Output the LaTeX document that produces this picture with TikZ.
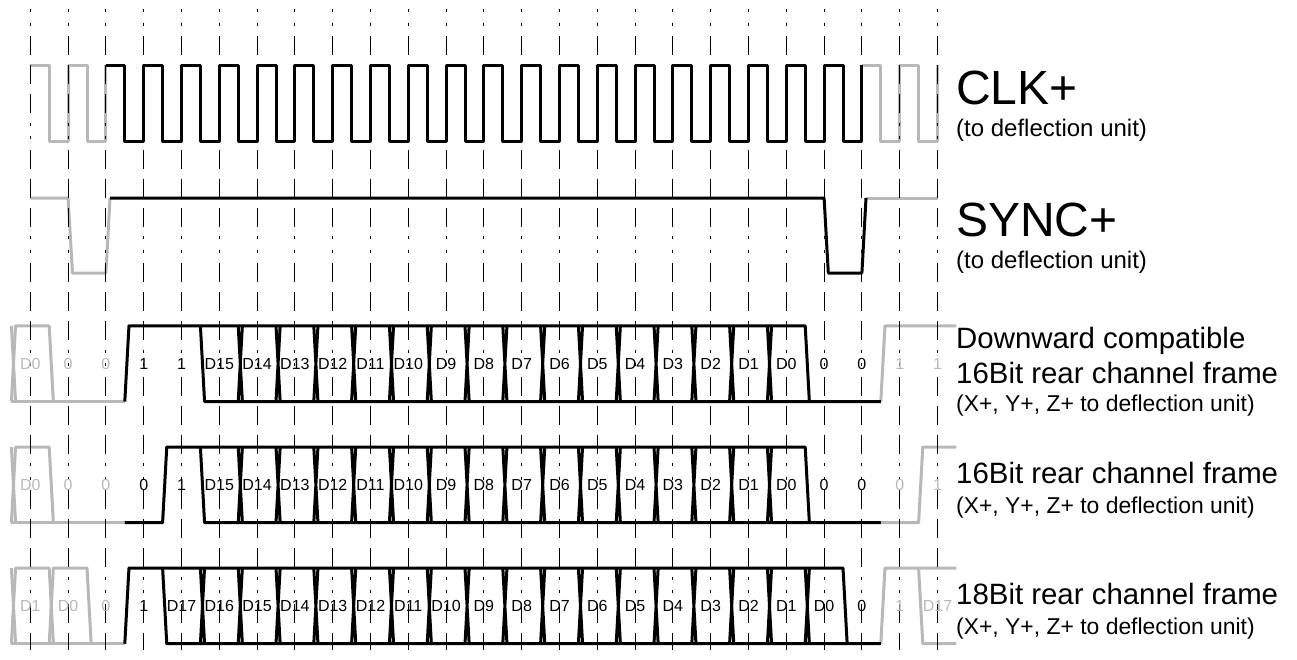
\documentclass[tikz,border=0pt]{standalone}
\usepackage{fontspec}
\setmainfont{Liberation Sans}
\usepackage{xcolor}
\usetikzlibrary{positioning}
\definecolor{faded}{HTML}{B8B8B8}

\begin{document}
\begin{tikzpicture}[
        x=1pt,y=-1pt,
        wave/.style={black,line width=3pt,line join=round},
        ghost/.style={wave,faded},
        grid/.style={black,line width=1pt,
                     dash pattern=on 3pt off 10.5pt on 3pt off 10.5pt on 19pt off 10pt on 19pt off 10pt on 19pt off 9.5pt},
        slots/.style={x=37.8pt,y=-75.7pt,shift={(11.4pt,-#1)}},
        bit/.style={anchor=base,inner sep=0pt,font=\fontsize{16}{16}\selectfont},
        ghostbit/.style={bit,text=faded},
        big/.style={anchor=base west,inner sep=0pt,font=\fontsize{48}{48}\selectfont},
        mid/.style={anchor=base west,inner sep=0pt,font=\fontsize{29.4}{29.4}\selectfont},
        small/.style={anchor=base west,inner sep=0pt,font=\fontsize{24}{24}\selectfont},
        tiny/.style={anchor=base west,inner sep=0pt,font=\fontsize{22.9}{22.9}\selectfont}
      ]
        \useasboundingbox (0,0) rectangle (1297,659);
        % greyed parts first, the time grid goes over them
        \draw[ghost] (30.3,65) \foreach \i in {1,2} {-- ++(18.9,0) -- ++(0,76) -- ++(18.9,0) -- ++(0,-76)};
        \draw[ghost] (861.9,65) \foreach \i in {1,2} {-- ++(18.9,0) -- ++(0,76) -- ++(18.9,0) -- ++(0,-76)};
        \draw[ghost] (30.3,198) -- (68.1,198) -- (72.5,273) -- (105.9,273) -- (110,198);
        \draw[ghost] (866,198) -- (937.5,198);
        \begin{scope}[slots=325.8pt]
          \draw[ghost] (0,1) -- (.11,0) -- (1,0) -- (1.11,1);
          \draw[ghost] (0,0) -- (.11,1);
          \draw[ghost] (0,1) -- (3,1);
          \draw[ghost] (23,1) -- (23.11,0) -- (25,0);
        \end{scope}
        \begin{scope}[slots=447pt]
          \draw[ghost] (0,1) -- (.11,0) -- (1,0) -- (1.11,1);
          \draw[ghost] (0,0) -- (.11,1);
          \draw[ghost] (0,1) -- (3,1);
          \draw[ghost] (23,1) -- (24,1) -- (24.11,0) -- (25,0);
        \end{scope}
        \begin{scope}[slots=568pt]
          \draw[ghost] (0,1) -- (.11,0) -- (1,0) -- (1.11,1);
          \draw[ghost] (0,0) -- (.11,1);
          \draw[ghost] (1,1) -- (1.11,0) -- (2,0) -- (2.11,1);
          \draw[ghost] (0,1) -- (3,1);
          \draw[ghost] (23,1) -- (23.11,0) -- (25,0);
          \draw[ghost] (24,0) -- (24.11,1) -- (25,1);
        \end{scope}
        % time grid
        \foreach \i in {0,...,24}
          \draw[grid] (30.3+\i*37.8,9) -- (30.3+\i*37.8,650);
        % clock and sync
        \draw[wave] (105.9,65) \foreach \i in {1,...,20} {-- ++(18.9,0) -- ++(0,76) -- ++(18.9,0) -- ++(0,-76)};
        \draw[wave] (110,198) -- (824.1,198) -- (828.3,273) -- (861.9,273) -- (866,198);
        % compatible frame
        \begin{scope}[slots=325.8pt]
          \draw[wave] (3,1) -- (3.11,0) -- (21,0) -- (21.11,1);
          \draw[wave] (5,0) -- (5.11,1) -- (23,1);
          \foreach \k in {6,...,20}
            \draw[wave] (\k,0) -- (\k+.11,1) (\k,1) -- (\k+.11,0);
          \node[ghostbit] (aD) at (.5,.58) {D0};
          \foreach \k/\t in {1/0,2/0,23/1,24/1}
            \node[ghostbit] (a\k) at (\k+.5,.58) {\t};
          \foreach \k/\t in {3/1,4/1,21/0,22/0}
            \node[bit] (a\k) at (\k+.5,.58) {\t};
          \foreach \k [evaluate=\k as \n using int(20-\k)] in {5,...,20}
            \node[bit] (a\k) at (\k+.5,.58) {D\n};
        \end{scope}
        % 16 bit frame
        \begin{scope}[slots=447pt]
          \draw[wave] (3,1) -- (4,1) -- (4.11,0) -- (21,0) -- (21.11,1);
          \draw[wave] (5,0) -- (5.11,1) -- (23,1);
          \foreach \k in {6,...,20}
            \draw[wave] (\k,0) -- (\k+.11,1) (\k,1) -- (\k+.11,0);
          \node[ghostbit] (bD) at (.5,.58) {D0};
          \foreach \k/\t in {1/0,2/0,23/0,24/1}
            \node[ghostbit] (b\k) at (\k+.5,.58) {\t};
          \foreach \k/\t in {3/0,4/1,21/0,22/0}
            \node[bit] (b\k) at (\k+.5,.58) {\t};
          \foreach \k [evaluate=\k as \n using int(20-\k)] in {5,...,20}
            \node[bit] (b\k) at (\k+.5,.58) {D\n};
        \end{scope}
        % 18 bit frame
        \begin{scope}[slots=568pt]
          \draw[wave] (3,1) -- (3.11,0) -- (22,0) -- (22.11,1);
          \draw[wave] (4,0) -- (4.11,1) -- (23,1);
          \foreach \k in {5,...,21}
            \draw[wave] (\k,0) -- (\k+.11,1) (\k,1) -- (\k+.11,0);
          \foreach \k/\t in {0/D1,1/D0,2/0,23/1,24/D17}
            \node[ghostbit] (c\k) at (\k+.5,.58) {\t};
          \foreach \k/\t in {3/1,22/0}
            \node[bit] (c\k) at (\k+.5,.58) {\t};
          \foreach \k [evaluate=\k as \n using int(21-\k)] in {4,...,21}
            \node[bit] (c\k) at (\k+.5,.58) {D\n};
        \end{scope}
        % signal names
        \node[big] (clk) at (956,104) {CLK+};
        \node[small] (clkto) at (956,136) {(to deflection unit)};
        \node[big] (sync) at (956,236) {SYNC+};
        \node[small] (syncto) at (956,268) {(to deflection unit)};
        \node[mid] (down) at (956,348) {Downward compatible};
        \node[mid] (downb) at (956,383) {16Bit rear channel frame};
        \node[tiny] (downto) at (956,411) {(X+, Y+, Z+ to deflection unit)};
        \node[mid] (rear) at (956,483) {16Bit rear channel frame};
        \node[tiny] (rearto) at (956,513) {(X+, Y+, Z+ to deflection unit)};
        \node[mid] (long) at (956,604) {18Bit rear channel frame};
        \node[tiny] (longto) at (956,634) {(X+, Y+, Z+ to deflection unit)};
      \end{tikzpicture}
\end{document}
